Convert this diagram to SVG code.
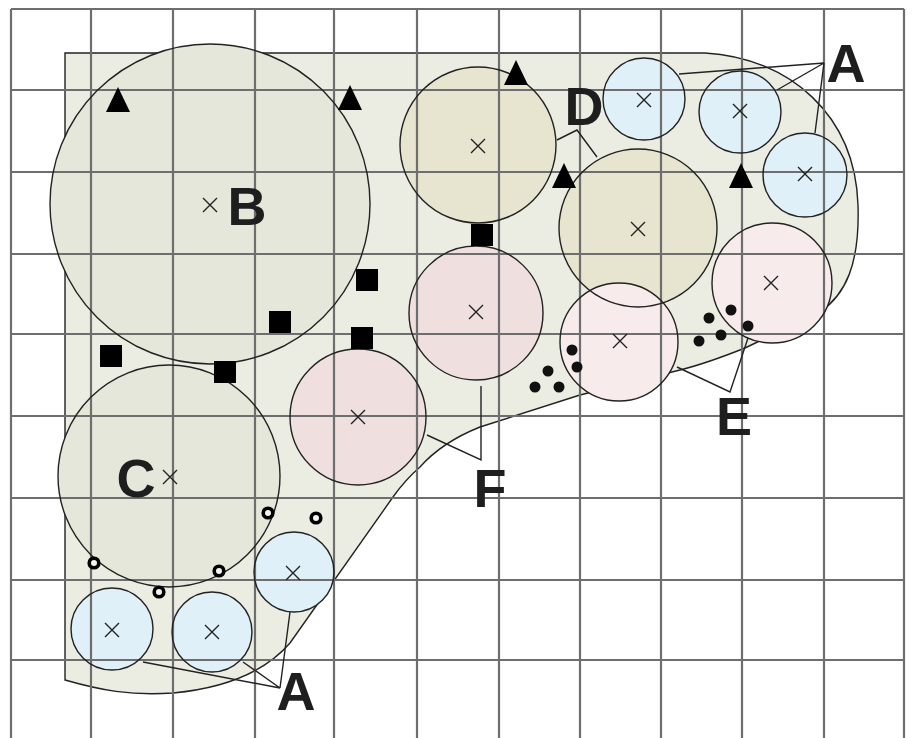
<svg xmlns="http://www.w3.org/2000/svg" width="913" height="738" viewBox="0 0 913 738">
<style>
.c{stroke:#222;stroke-width:1.4}
.cb{fill:#e5e7da}
.tan{fill:#e7e5cf}
.pk{fill:#efdfdf}
.lp{fill:#f7eceb}
.bl{fill:#dff0f8}
.g{stroke:#6e6e6e;stroke-width:2.2;fill:none}
.lbl{font-family:"Liberation Sans",Arial,sans-serif;font-weight:bold;font-size:54px;fill:#1e1e1e;text-anchor:middle}
.cl{stroke:#222;stroke-width:1.4;fill:none}
.tri{fill:#000}
.sq{fill:#000}
.dot{fill:#111}
.ring{fill:#f3f4ee;stroke:#000;stroke-width:3.6}
</style>
<defs>
<path id="xm" d="M-7,-7L7,7M-7,7L7,-7"/>
<path id="tr" d="M0,-13L12,12L-12,12Z"/>
<rect id="sqm" x="-11" y="-11" width="22" height="22"/>
</defs>
<rect width="913" height="738" fill="#fff"/>
<g id="region">
<path d="M65,53 L705,53 C790,58 855,115 858,205 C860,265 845,295 820,312 L745,348 C720,358 700,365 680,370 L580,395 L480,427 C455,437 435,450 420,467 C405,480 398,490 393,497 L290,643 C265,672 225,688 173,693 C130,696 100,690 65,680 Z" fill="#ebede3" class="c"/>
</g>
<g id="fills">
<circle cx="210" cy="204" r="160" class="cb"/>
<circle cx="169" cy="476" r="111" class="cb"/>
<circle cx="358" cy="417" r="68" class="pk"/>
<circle cx="476" cy="313" r="67" class="pk"/>
<circle cx="478" cy="145" r="78" class="tan"/>
<circle cx="638" cy="228" r="79" class="tan"/>
<circle cx="619" cy="342" r="59" class="lp"/>
<circle cx="772" cy="283" r="60" class="lp"/>
<circle cx="644" cy="99" r="41" class="bl"/>
<circle cx="740" cy="112" r="41" class="bl"/>
<circle cx="805" cy="175" r="42" class="bl"/>
<circle cx="294" cy="572" r="40" class="bl"/>
<circle cx="112" cy="629" r="41" class="bl"/>
<circle cx="212" cy="632" r="40" class="bl"/>
</g>
<g id="grid" class="g">
<path d="M11,9V738M91,9V738M173,9V738M255,9V738M334,9V738M417,9V738M499,9V738M580,9V738M661,9V738M742,9V738M824,9V738M904,9V738"/>
<path d="M11,9H904M11,90H904M11,172H904M11,254H904M11,334H904M11,416H904M11,498H904M11,580H904M11,660H904"/>
</g>
<g fill="none" class="c">
<g id="circleB"><circle cx="210" cy="204" r="160"/><use href="#xm" x="210" y="205"/></g>
<g id="circleC"><circle cx="169" cy="476" r="111"/><use href="#xm" x="170" y="477"/></g>
<g id="pink1"><circle cx="358" cy="417" r="68"/><use href="#xm" x="358" y="417"/></g>
<g id="pink2"><circle cx="476" cy="313" r="67"/><use href="#xm" x="476" y="312"/></g>
<g id="tan1"><circle cx="478" cy="145" r="78"/><use href="#xm" x="478" y="146"/></g>
<g id="tan2"><circle cx="638" cy="228" r="79"/><use href="#xm" x="638" y="229"/></g>
<g id="lpink1"><circle cx="619" cy="342" r="59"/><use href="#xm" x="620" y="341"/></g>
<g id="lpink2"><circle cx="772" cy="283" r="60"/><use href="#xm" x="771" y="283"/></g>
<g id="blue1"><circle cx="644" cy="99" r="41"/><use href="#xm" x="644" y="100"/></g>
<g id="blue2"><circle cx="740" cy="112" r="41"/><use href="#xm" x="740" y="111"/></g>
<g id="blue3"><circle cx="805" cy="175" r="42"/><use href="#xm" x="805" y="174"/></g>
<g id="blue4"><circle cx="294" cy="572" r="40"/><use href="#xm" x="293" y="573"/></g>
<g id="blue5"><circle cx="112" cy="629" r="41"/><use href="#xm" x="112" y="630"/></g>
<g id="blue6"><circle cx="212" cy="632" r="40"/><use href="#xm" x="212" y="632"/></g>
</g>
<g id="triangles" class="tri">
<use href="#tr" x="118" y="100"/>
<use href="#tr" x="350" y="98"/>
<use href="#tr" x="516" y="73"/>
<use href="#tr" x="564" y="176"/>
<use href="#tr" x="741" y="176"/>
</g>
<g id="squares" class="sq">
<use href="#sqm" x="367" y="280"/>
<use href="#sqm" x="280" y="322"/>
<use href="#sqm" x="111" y="356"/>
<use href="#sqm" x="362" y="338"/>
<use href="#sqm" x="225" y="372"/>
<use href="#sqm" x="482" y="235"/>
</g>
<g id="rings" class="ring">
<circle cx="268" cy="513" r="4.8"/>
<circle cx="316" cy="518" r="4.8"/>
<circle cx="94" cy="563" r="4.8"/>
<circle cx="159" cy="592" r="4.8"/>
<circle cx="219" cy="571" r="4.8"/>
</g>
<g id="dots" class="dot">
<circle cx="572" cy="350" r="5.5"/>
<circle cx="577" cy="367" r="5.5"/>
<circle cx="548" cy="371" r="5.5"/>
<circle cx="535" cy="387" r="5.5"/>
<circle cx="559" cy="387" r="5.5"/>
<circle cx="731" cy="310" r="5.5"/>
<circle cx="709" cy="318" r="5.5"/>
<circle cx="748" cy="326" r="5.5"/>
<circle cx="699" cy="341" r="5.5"/>
<circle cx="721" cy="335" r="5.5"/>
</g>
<g id="connectors" class="cl">
<path d="M557,140 L577,130 L597,157"/>
<path d="M679,74 L824,63 L777,90 M824,63 L815,133"/>
<path d="M143,662 L280,688 L243,662 M280,688 L290,612"/>
<path d="M677,367 L730,392 L748,338"/>
<path d="M427,435 L481,460 L481,386"/>
</g>
<g id="labels">
<text class="lbl" x="247" y="225">B</text>
<text class="lbl" x="136" y="497">C</text>
<text class="lbl" x="584" y="125">D</text>
<text class="lbl" x="846" y="82">A</text>
<text class="lbl" x="296" y="710">A</text>
<text class="lbl" x="734" y="435">E</text>
<text class="lbl" x="490" y="507">F</text>
</g>
</svg>
